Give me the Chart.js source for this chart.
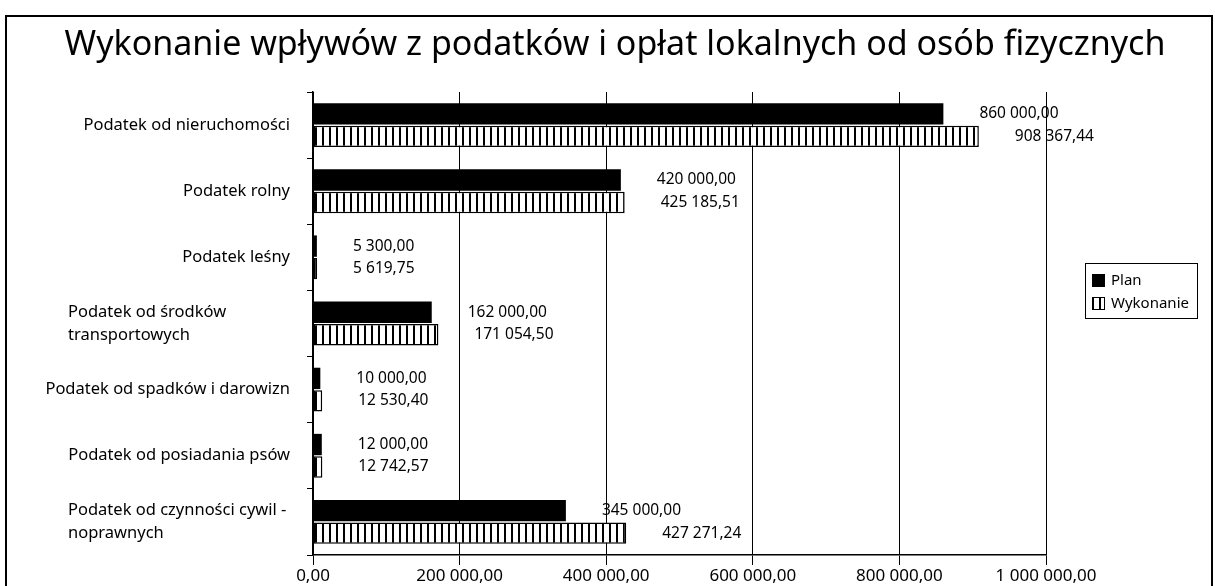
<!DOCTYPE html>
<html>
<head>
  <meta charset="UTF-8">
  <title>Wykonanie wpływów z podatków i opłat lokalnych</title>
  <script src="https://cdn.jsdelivr.net/npm/chart.js"></script>
  <style>
    html, body { margin: 0; padding: 0; background: #fff; }
    #wrap { width: 1215px; height: 586px; position: relative; }
  </style>
</head>
<body>
  <div id="wrap">
    <canvas id="myChart" width="1215" height="586"></canvas>
  </div>
  <script>
    // kategorie (oś Y)
    const categories = [
      ["Podatek od nieruchomości"],
      ["Podatek rolny"],
      ["Podatek leśny"],
      ["Podatek od środków", "transportowych"],
      ["Podatek od spadków i darowizn"],
      ["Podatek od posiadania psów"],
      ["Podatek od czynności cywil -", "noprawnych"]
    ];
    const planValues = [860000, 420000, 5300, 162000, 10000, 12000, 345000];
    const wykonanieValues = [908367.44, 425185.51, 5619.75, 171054.50, 12530.40, 12742.57, 427271.24];
    const seriesNames = ["Plan", "Wykonanie"];
    const xTicks = [0, 200000, 400000, 600000, 800000, 1000000];
    const titleText = 'Wykonanie wpływów z podatków i opłat lokalnych od osób fizycznych';

    const FONT = "'Noto Sans', 'Open Sans', sans-serif";

    // format: 1 000 000,00
    function fmt(v) {
      const parts = v.toFixed(2).split('.');
      return parts[0].replace(/\B(?=(\d{3})+(?!\d))/g, ' ') + ',' + parts[1];
    }

    // wzór w pionowe paski dla "Wykonanie"
    function stripePattern() {
      const c = document.createElement('canvas');
      c.width = 7; c.height = 8;
      const g = c.getContext('2d');
      g.fillStyle = '#fff';
      g.fillRect(0, 0, 7, 8);
      g.fillStyle = '#000';
      g.fillRect(0, 0, 2, 8);
      return g.createPattern(c, 'repeat');
    }
    const stripes = stripePattern();

    // ramka i tytuł
    const framePlugin = {
      id: 'frame',
      beforeDraw(chart) {
        const ctx = chart.ctx;
        ctx.save();
        ctx.fillStyle = '#fff';
        ctx.fillRect(0, 0, chart.width, chart.height);
        ctx.strokeStyle = '#000';
        ctx.lineWidth = 2;
        ctx.strokeRect(6, 16, 1206, 600);
        ctx.fillStyle = '#000';
        ctx.font = '34px ' + FONT;
        ctx.textAlign = 'center';
        ctx.textBaseline = 'middle';
        ctx.fillText(titleText, 615, 45);
        ctx.restore();
      }
    };

    // etykiety kategorii, wartości i legenda
    const labelsPlugin = {
      id: 'labels',
      afterDatasetsDraw(chart) {
        const ctx = chart.ctx;
        ctx.save();
        ctx.fillStyle = '#000';
        ctx.textBaseline = 'middle';

        // wartości przy słupkach
        ctx.font = '15.5px ' + FONT;
        ctx.textAlign = 'left';
        chart.data.datasets.forEach((ds, di) => {
          chart.getDatasetMeta(di).data.forEach((bar, i) => {
            ctx.fillText(fmt(ds.data[i]), bar.x + 36, bar.y);
          });
        });

        // kategorie
        const y = chart.scales.y;
        const right = 290;
        ctx.font = '16.5px ' + FONT;
        categories.forEach((lines, i) => {
          const cy = y.getPixelForValue(i);
          if (lines.length === 1) {
            ctx.textAlign = 'right';
            ctx.fillText(lines[0], right, cy);
          } else {
            const w = Math.max(222, ...lines.map(l => ctx.measureText(l).width));
            ctx.textAlign = 'left';
            const lh = 23;
            lines.forEach((l, k) => {
              ctx.fillText(l, right - w, cy + (k - (lines.length - 1) / 2) * lh);
            });
          }
        });

        // legenda
        const lx = 1085, ly = 263;
        ctx.lineWidth = 1;
        ctx.strokeStyle = '#000';
        ctx.strokeRect(lx + 0.5, ly + 0.5, 112, 55);
        ctx.font = '15px ' + FONT;
        ctx.textAlign = 'left';
        seriesNames.forEach((name, i) => {
          const sy = ly + 11 + i * 23;
          ctx.fillStyle = i === 0 ? '#000' : stripes;
          ctx.fillRect(lx + 7, sy, 13, 13);
          ctx.strokeRect(lx + 7.5, sy + 0.5, 12, 12);
          ctx.fillStyle = '#000';
          ctx.fillText(name, lx + 26, sy + 7);
        });
        ctx.restore();
      }
    };

    const config = {
      type: 'bar',
      data: {
        labels: categories.map(c => c.join(' ')),
        datasets: [
          {
            label: seriesNames[0],
            data: planValues,
            backgroundColor: '#000',
            borderColor: '#000',
            borderWidth: 0,
            categoryPercentage: 0.68,
            barPercentage: 0.95
          },
          {
            label: seriesNames[1],
            data: wykonanieValues,
            backgroundColor: stripes,
            borderColor: '#000',
            borderWidth: 1.5,
            borderSkipped: false,
            categoryPercentage: 0.68,
            barPercentage: 0.95
          }
        ]
      },
      options: {
        indexAxis: 'y',
        responsive: false,
        animation: false,
        layout: { padding: { left: 0, right: 169, top: 92, bottom: 0 } },
        scales: {
          x: {
            min: 0,
            max: 1000000,
            afterBuildTicks(scale) {
              scale.ticks = xTicks.map(v => ({ value: v }));
            },
            afterFit(scale) { scale.height = 31; },
            grid: { color: '#000', lineWidth: 1, tickLength: 10 },
            border: { color: '#000', width: 1.5 },
            ticks: {
              color: '#000',
              padding: 1,
              maxRotation: 0,
              font: { family: FONT, size: 17 },
              callback: v => fmt(v)
            }
          },
          y: {
            afterFit(scale) { scale.width = 313; },
            grid: { drawOnChartArea: false, color: '#000', tickLength: 6, offset: true },
            border: { color: '#000', width: 1.5 },
            ticks: { display: false }
          }
        },
        plugins: {
          legend: { display: false },
          tooltip: { enabled: false },
          title: { display: false }
        }
      },
      plugins: [framePlugin, labelsPlugin]
    };

    new Chart(document.getElementById('myChart'), config);
  </script>
</body>
</html>
